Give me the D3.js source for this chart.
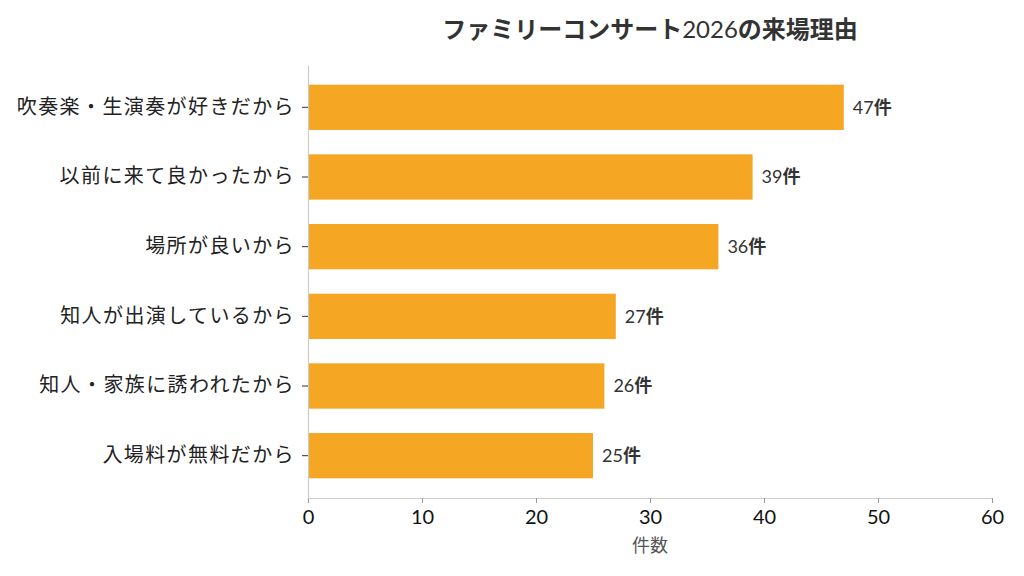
<!DOCTYPE html>
<html>
<head>
<meta charset="utf-8">
<script src="https://cdn.jsdelivr.net/npm/d3@7"></script>
<style>
  body { margin: 0; background: #fff; }
  svg text { font-family: Lato, "Noto Sans CJK JP", sans-serif; }
</style>
</head>
<body>
<div id="chart"></div>
<script>
const categories = [
    "吹奏楽・生演奏が好きだから",
    "以前に来て良かったから",
    "場所が良いから",
    "知人が出演しているから",
    "知人・家族に誘われたから",
    "入場料が無料だから"
];
const counts = [47, 39, 36, 27, 26, 25];
const xTicks = [0, 10, 20, 30, 40, 50, 60];
const unitLabel = "件";

const margin = { top: 65, right: 32, bottom: 78, left: 308 };
const width = 1024 - margin.left - margin.right;
const height = 576 - margin.top - margin.bottom;
const barColor = "#F5A623";

const svg = d3.select("#chart")
    .append("svg")
    .attr("width", 1024)
    .attr("height", 576)
    .append("g")
    .attr("transform", `translate(${margin.left}, ${margin.top})`);

const xScale = d3.scaleLinear().domain([0, 60]).range([0, width]);
const yScale = d3.scaleBand()
    .domain(categories)
    .range([0, height])
    .paddingInner(0.35)
    .paddingOuter(0.2825);

// bars
svg.selectAll(".bar")
    .data(counts)
    .enter().append("rect")
    .attr("class", "bar")
    .attr("x", 0)
    .attr("y", (d, i) => yScale(categories[i]))
    .attr("width", d => xScale(d))
    .attr("height", yScale.bandwidth())
    .attr("fill", barColor);

// value labels
const vals = svg.selectAll(".val")
    .data(counts)
    .enter().append("text")
    .attr("class", "val")
    .attr("x", d => xScale(d) + 9)
    .attr("y", (d, i) => yScale(categories[i]) + yScale.bandwidth() / 2)
    .attr("dy", "0.35em")
    .style("font-size", "18px")
    .style("fill", "#333");
vals.append("tspan").text(d => d);
vals.append("tspan").style("font-weight", "bold").text(unitLabel);

// x axis
const xAxis = svg.append("g")
    .attr("transform", `translate(0, ${height})`)
    .call(d3.axisBottom(xScale).tickValues(xTicks).tickSize(5).tickPadding(7));
xAxis.selectAll("text").style("font-size", "20px").style("fill", "#111");
xAxis.selectAll(".tick line").style("stroke", "#999");
xAxis.select(".domain").style("stroke", "#ccc").style("stroke-width", 1.2);

// y axis
const yAxis = svg.append("g")
    .call(d3.axisLeft(yScale).tickSize(6).tickPadding(7).tickSizeOuter(0));
yAxis.selectAll("text").style("font-size", "20px").style("fill", "#222")
    .style("letter-spacing", "1.4px")
    .style("font-family", "'Noto Sans CJK JP', sans-serif");
yAxis.selectAll(".tick line").style("stroke", "#333");
yAxis.select(".domain").style("stroke", "#ccc").style("stroke-width", 1.2);

// x axis label
svg.append("text")
    .attr("x", width / 2)
    .attr("y", height + 54)
    .style("text-anchor", "middle")
    .style("font-size", "18px")
    .style("fill", "#555")
    .text("件数");

// title
const title = svg.append("text")
    .attr("x", width / 2)
    .attr("y", -27)
    .style("text-anchor", "middle")
    .style("font-size", "24px")
    .style("fill", "#333")
    .style("font-weight", "bold");
title.append("tspan").text("ファミリーコンサート");
title.append("tspan").style("font-weight", "normal").text("2026");
title.append("tspan").text("の来場理由");
</script>
</body>
</html>
